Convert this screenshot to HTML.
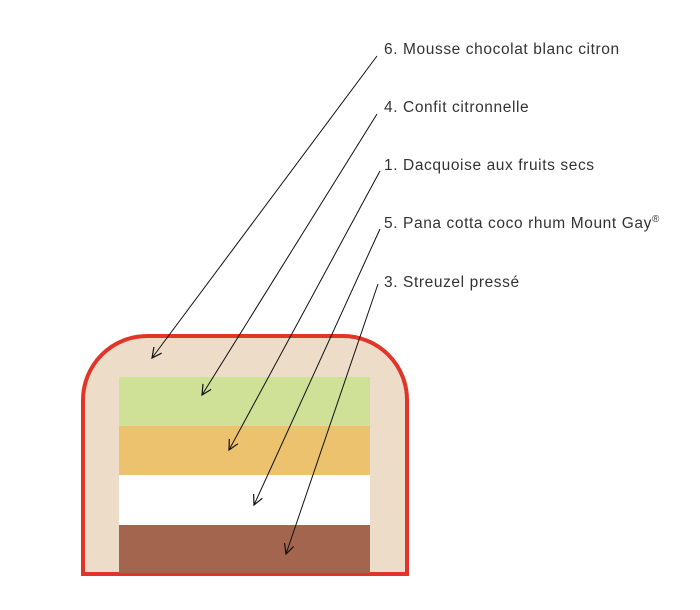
<!DOCTYPE html>
<html><head><style>body{margin:0;background:#fff}svg{display:block}</style></head><body>
<svg width="700" height="610" xmlns="http://www.w3.org/2000/svg">
<defs><marker id="a" markerWidth="12" markerHeight="12" refX="10" refY="5" orient="auto" markerUnits="userSpaceOnUse"><path d="M0,0 L10,5 L0,10" fill="none" stroke="#111" stroke-width="1.2"/></marker></defs>
<path d="M83,574 L83,400 A64,64 0 0 1 147,336 L343,336 A64,64 0 0 1 407,400 L407,574 Z" fill="#eddcc8" stroke="#e2352a" stroke-width="4"/>
<rect x="119" y="377" width="251" height="49" fill="#cfe196"/>
<rect x="119" y="426" width="251" height="49" fill="#ecc26e"/>
<rect x="119" y="475" width="251" height="50" fill="#fff"/>
<rect x="119" y="525" width="251" height="48" fill="#a3654e"/>
<g stroke="#111" stroke-width="1" marker-end="url(#a)">
<line x1="377" y1="56" x2="152" y2="358"/>
<line x1="377" y1="114" x2="202" y2="395"/>
<line x1="380" y1="171" x2="229" y2="450"/>
<line x1="380" y1="229" x2="254" y2="505"/>
<line x1="378" y1="284" x2="286" y2="554"/>
</g>
<g font-family="Liberation Sans, sans-serif" font-size="15.5" fill="#333" letter-spacing="0.6">
<text x="384" y="54">6. Mousse chocolat blanc citron</text>
<text x="384" y="112">4. Confit citronnelle</text>
<text x="384" y="170">1. Dacquoise aux fruits secs</text>
<text x="384" y="228">5. Pana cotta coco rhum Mount Gay<tspan font-size="10" dy="-6">®</tspan></text>
<text x="384" y="287">3. Streuzel pressé</text>
</g>
</svg>
</body></html>
